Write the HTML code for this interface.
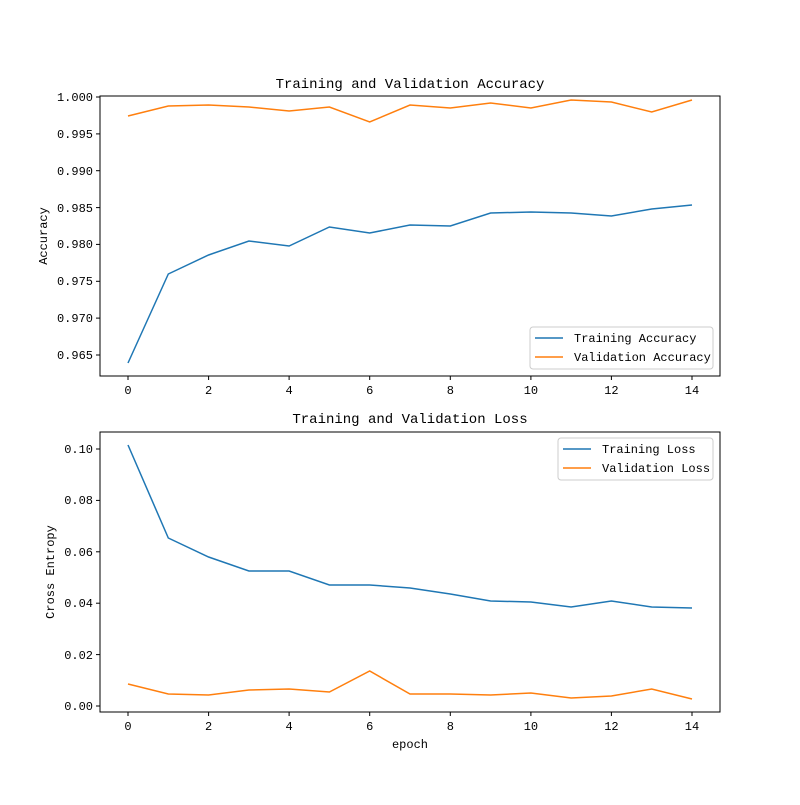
<!DOCTYPE html>
<html><head><meta charset="utf-8"><style>body{margin:0;background:#fff}svg text{font-family:"Liberation Mono","WenQuanYi Zen Hei",monospace;font-size:12px;fill:#000}</style></head>
<body>
<svg width="800" height="800" xmlns="http://www.w3.org/2000/svg">
<rect width="800" height="800" fill="#fff"/>
<!-- top axes -->
<rect x="100" y="96" width="620" height="280" fill="none" stroke="#000" stroke-width="1"/>
<text x="410" y="88" text-anchor="middle" style="font-size:14px">Training and Validation Accuracy</text>
<g stroke="#000">
<line x1="128" y1="376" x2="128" y2="380"/><line x1="208.6" y1="376" x2="208.6" y2="380"/><line x1="289.1" y1="376" x2="289.1" y2="380"/><line x1="369.7" y1="376" x2="369.7" y2="380"/><line x1="450.3" y1="376" x2="450.3" y2="380"/><line x1="530.9" y1="376" x2="530.9" y2="380"/><line x1="611.4" y1="376" x2="611.4" y2="380"/><line x1="692" y1="376" x2="692" y2="380"/>
<line x1="96" y1="97" x2="100" y2="97"/><line x1="96" y1="133.9" x2="100" y2="133.9"/><line x1="96" y1="170.7" x2="100" y2="170.7"/><line x1="96" y1="207.6" x2="100" y2="207.6"/><line x1="96" y1="244.4" x2="100" y2="244.4"/><line x1="96" y1="281.3" x2="100" y2="281.3"/><line x1="96" y1="318.1" x2="100" y2="318.1"/><line x1="96" y1="355" x2="100" y2="355"/>
</g>
<g text-anchor="middle">
<text x="128" y="394">0</text><text x="208.6" y="394">2</text><text x="289.1" y="394">4</text><text x="369.7" y="394">6</text><text x="450.3" y="394">8</text><text x="530.9" y="394">10</text><text x="611.4" y="394">12</text><text x="692" y="394">14</text>
</g>
<g text-anchor="end">
<text x="93" y="101">1.000</text><text x="93" y="138">0.995</text><text x="93" y="175">0.990</text><text x="93" y="212">0.985</text><text x="93" y="248">0.980</text><text x="93" y="285">0.975</text><text x="93" y="322">0.970</text><text x="93" y="359">0.965</text>
</g>
<text transform="translate(47,236) rotate(-90)" text-anchor="middle">Accuracy</text>
<polyline fill="none" stroke="#1f77b4" stroke-width="1.5" points="128,363 168.3,274 208.6,255 248.9,241 289.1,246 329.4,227 369.7,233 410,225 450.3,226 490.6,213 530.9,212 571.1,213 611.4,216 651.7,209 692,205"/>
<polyline fill="none" stroke="#ff7f0e" stroke-width="1.5" points="128,116 168.3,106 208.6,105 248.9,107 289.1,111 329.4,107 369.7,122 410,105 450.3,108 490.6,103 530.9,108 571.1,100 611.4,102 651.7,112 692,100"/>
<rect x="530" y="327" width="183" height="42" rx="3" fill="#fff" fill-opacity="0.8" stroke="#ccc"/>
<line x1="535" y1="338" x2="563" y2="338" stroke="#1f77b4" stroke-width="1.5"/><text x="574" y="342">Training Accuracy</text>
<line x1="535" y1="357" x2="563" y2="357" stroke="#ff7f0e" stroke-width="1.5"/><text x="574" y="361">Validation Accuracy</text>
<!-- bottom axes -->
<rect x="100" y="432" width="620" height="280" fill="none" stroke="#000" stroke-width="1"/>
<text x="410" y="423" text-anchor="middle" style="font-size:14px">Training and Validation Loss</text>
<g stroke="#000">
<line x1="128" y1="712" x2="128" y2="716"/><line x1="208.6" y1="712" x2="208.6" y2="716"/><line x1="289.1" y1="712" x2="289.1" y2="716"/><line x1="369.7" y1="712" x2="369.7" y2="716"/><line x1="450.3" y1="712" x2="450.3" y2="716"/><line x1="530.9" y1="712" x2="530.9" y2="716"/><line x1="611.4" y1="712" x2="611.4" y2="716"/><line x1="692" y1="712" x2="692" y2="716"/>
<line x1="96" y1="449" x2="100" y2="449"/><line x1="96" y1="500.4" x2="100" y2="500.4"/><line x1="96" y1="551.8" x2="100" y2="551.8"/><line x1="96" y1="603.2" x2="100" y2="603.2"/><line x1="96" y1="654.6" x2="100" y2="654.6"/><line x1="96" y1="706" x2="100" y2="706"/>
</g>
<g text-anchor="middle">
<text x="128" y="730">0</text><text x="208.6" y="730">2</text><text x="289.1" y="730">4</text><text x="369.7" y="730">6</text><text x="450.3" y="730">8</text><text x="530.9" y="730">10</text><text x="611.4" y="730">12</text><text x="692" y="730">14</text>
</g>
<g text-anchor="end">
<text x="93" y="453">0.10</text><text x="93" y="504">0.08</text><text x="93" y="556">0.06</text><text x="93" y="607">0.04</text><text x="93" y="659">0.02</text><text x="93" y="710">0.00</text>
</g>
<text transform="translate(54,572) rotate(-90)" text-anchor="middle">Cross Entropy</text>
<text x="410" y="748" text-anchor="middle">epoch</text>
<polyline fill="none" stroke="#1f77b4" stroke-width="1.5" points="128,445 168.3,538 208.6,557 248.9,571 289.1,571 329.4,585 369.7,585 410,588 450.3,594 490.6,601 530.9,602 571.1,607 611.4,601 651.7,607 692,608"/>
<polyline fill="none" stroke="#ff7f0e" stroke-width="1.5" points="128,684 168.3,694 208.6,695 248.9,690 289.1,689 329.4,692 369.7,671 410,694 450.3,694 490.6,695 530.9,693 571.1,698 611.4,696 651.7,689 692,699"/>
<rect x="558" y="438" width="155" height="42" rx="3" fill="#fff" fill-opacity="0.8" stroke="#ccc"/>
<line x1="563" y1="449" x2="591" y2="449" stroke="#1f77b4" stroke-width="1.5"/><text x="602" y="453">Training Loss</text>
<line x1="563" y1="468" x2="591" y2="468" stroke="#ff7f0e" stroke-width="1.5"/><text x="602" y="472">Validation Loss</text>
</svg>
</body></html>
